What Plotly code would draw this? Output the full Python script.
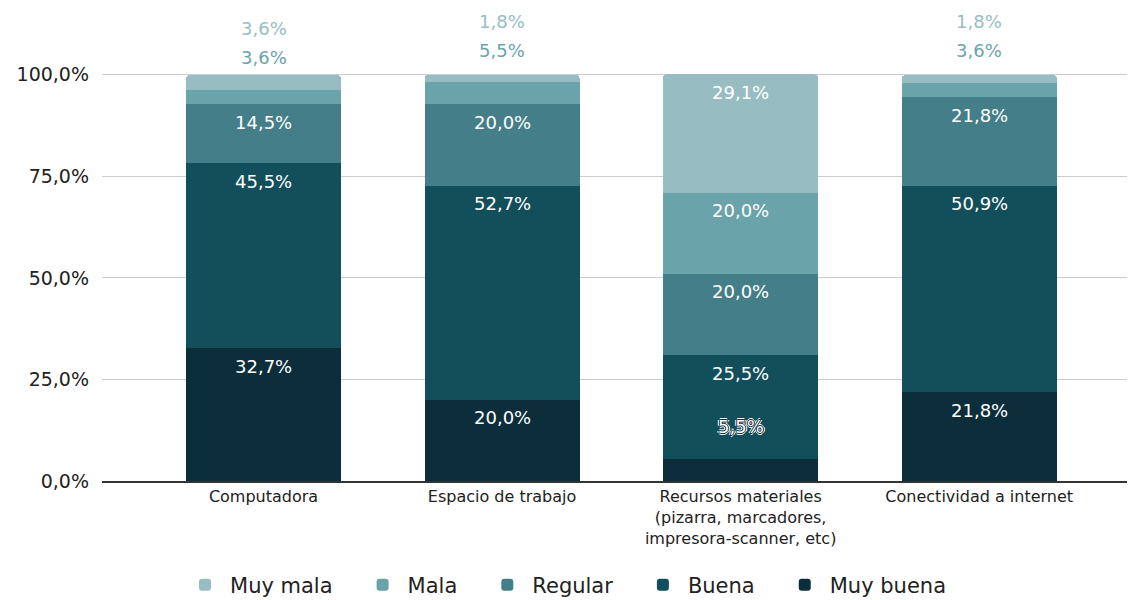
import plotly.graph_objects as go

# ---------------- data ----------------
categories = [
    "Computadora",
    "Espacio de trabajo",
    "Recursos materiales<br>(pizarra, marcadores,<br>impresora-scanner, etc)",
    "Conectividad a internet",
]
series_names = ["Muy buena", "Buena", "Regular", "Mala", "Muy mala"]
muy_buena = [32.7, 20.0, 5.5, 21.8]
buena = [45.5, 52.7, 25.5, 50.9]
regular = [14.5, 20.0, 20.0, 21.8]
mala = [3.6, 5.5, 20.0, 3.6]
muy_mala = [3.6, 1.8, 29.1, 1.8]
y_tick_values = [0, 25, 50, 75, 100]
y_tick_labels = ["0,0%", "25,0%", "50,0%", "75,0%", "100,0%"]

# ---------------- style ----------------
colors = {
    "Muy buena": "#0b2e3a",
    "Buena": "#134f5b",
    "Regular": "#447f89",
    "Mala": "#6ba3aa",
    "Muy mala": "#97bdc3",
}
FONT = "DejaVu Sans"
# the page body has an 8px margin, so the figure is 8px smaller than the window
W, H = 1127, 592
M_L, M_R, M_T, M_B = 94, 0, 2, 119
PX_PER_UNIT = 4.062
Y_TOP = (H - M_T - M_B) / PX_PER_UNIT
INSIDE_MIN = 6.0      # segments smaller than this get their label outside
INSIDE_SHIFT = -18    # px, label centre below segment top
OUTSIDE_SHIFT = 32    # px, label centre above segment top
OUTSIDE_GAP = 29      # px, minimum spacing between stacked outside labels
LEGEND_PAD = "\u00a0\u00a0\u00a0"


def fmt(v):
    return f"{v:.1f}".replace(".", ",") + "%"


series_values = [muy_buena, buena, regular, mala, muy_mala]

fig = go.Figure()
for name, vals in zip(series_names, series_values):
    fig.add_trace(
        go.Bar(
            name=name + LEGEND_PAD,
            x=categories,
            y=vals,
            width=0.65,
            marker=dict(color=colors[name], line=dict(width=0)),
            hoverinfo="skip",
        )
    )

annotations = []
for j, cat in enumerate(categories):
    cum = 0.0
    last_out_px = None
    for name, vals in zip(series_names, series_values):
        v = vals[j]
        top = cum + v
        cum = top
        if v >= INSIDE_MIN:
            annotations.append(dict(
                x=j, y=top, xref="x", yref="y", text=fmt(v), showarrow=False,
                yshift=INSIDE_SHIFT, yanchor="middle",
                font=dict(family=FONT, size=18, color="#ffffff"),
            ))
        else:
            pos = top * PX_PER_UNIT + OUTSIDE_SHIFT
            if last_out_px is not None and pos < last_out_px + OUTSIDE_GAP:
                pos = last_out_px + OUTSIDE_GAP
            last_out_px = pos
            shift = pos - top * PX_PER_UNIT
            if top < 50:
                font = dict(
                    family=FONT, size=18, color="#ffffff",
                    shadow=("1px 0 0 #0b2e3a, -1px 0 0 #0b2e3a, 0 1px 0 #0b2e3a, "
                            "0 -1px 0 #0b2e3a, 2px 0 0 #ffffff, -2px 0 0 #ffffff, "
                            "0 2px 0 #ffffff, 0 -2px 0 #ffffff"),
                )
            else:
                font = dict(family=FONT, size=18, color=colors[name])
            annotations.append(dict(
                x=j, y=top, xref="x", yref="y", text=fmt(v), showarrow=False,
                yshift=shift, yanchor="middle", font=font,
            ))

fig.update_layout(
    width=W,
    height=H,
    autosize=False,
    barmode="stack",
    barcornerradius=4,
    plot_bgcolor="#ffffff",
    paper_bgcolor="#ffffff",
    margin=dict(l=M_L, r=M_R, t=M_T, b=M_B, pad=0, autoexpand=False),
    annotations=annotations,
    showlegend=True,
    legend=dict(
        orientation="h",
        traceorder="reversed",
        itemwidth=40,
        xref="container",
        yref="container",
        x=0.504,
        xanchor="center",
        y=1 - 577 / H,
        yanchor="middle",
        font=dict(family=FONT, size=21, color="#222222"),
    ),
    xaxis=dict(
        range=[-0.677, 3.653],
        automargin=False,
        showgrid=False,
        showline=True,
        linecolor="#333333",
        linewidth=1.5,
        ticks="",
        tickfont=dict(family=FONT, size=16, color="#222222"),
        fixedrange=True,
    ),
    yaxis=dict(
        range=[0, Y_TOP],
        automargin=False,
        tickvals=y_tick_values,
        ticktext=y_tick_labels,
        showgrid=True,
        gridcolor="#cccccc",
        gridwidth=1,
        zeroline=False,
        showline=False,
        ticks="",
        ticklabelstandoff=12,
        tickfont=dict(family=FONT, size=19, color="#222222"),
        fixedrange=True,
    ),
)

fig.write_html("out.html")
